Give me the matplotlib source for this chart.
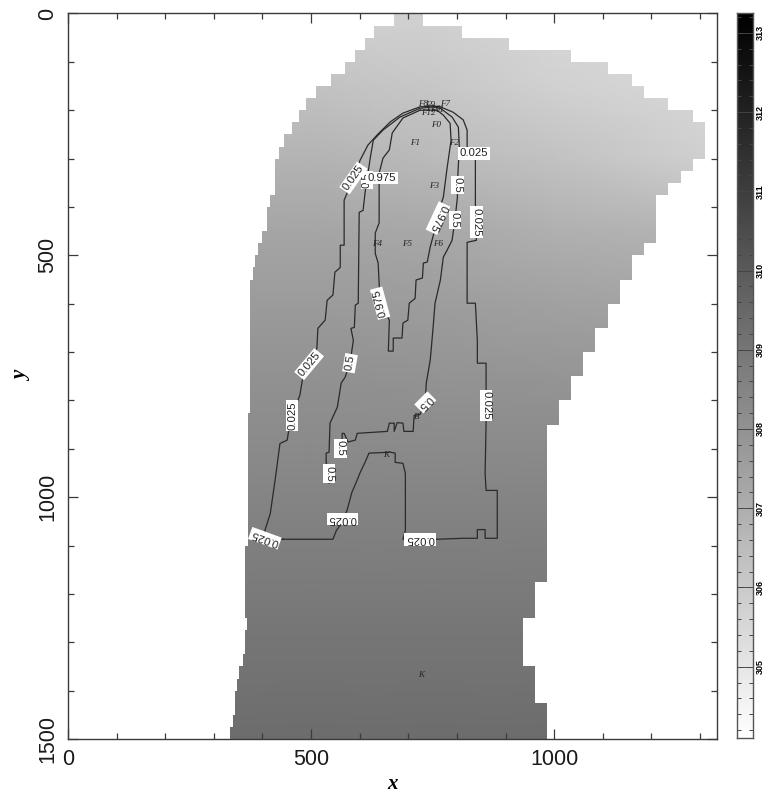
import numpy as np
import matplotlib
matplotlib.use("Agg")
import matplotlib.pyplot as plt
from matplotlib.patches import Polygon

plt.rcParams['font.family'] = ['Liberation Sans', 'DejaVu Sans']

W, H = 765, 793

# domain outline: one (left, right) x-extent per 25-unit row
row_left = [670,630,610,590,570,540,510,490,475,460,445,435,425,425,425,415,410,410,400,390,
            385,380,375,375,375,375,375,375,375,375,375,375,375,370,370,370,370,370,370,370,
            370,370,370,370,365,365,365,365,365,365,368,365,364,360,352,348,344,344,340,333]
row_right = [730,810,907,1035,1110,1160,1185,1235,1285,1310,1310,1310,1285,1260,1235,1210,1210,1210,1210,1185,
             1160,1160,1135,1135,1110,1110,1085,1085,1060,1060,1035,1035,1010,1010,985,985,985,985,985,985,
             985,985,985,985,985,985,985,960,960,960,935,935,935,935,960,960,960,985,985,985]

# temperature samples
field_x = [200, 500, 750, 1000, 1350]
field_y = [0, 150, 300, 450, 600, 750, 900, 1050, 1200, 1350, 1500]
field_T = [[305.75, 305.75, 305.75, 305.56, 305.38],
           [306.30, 306.30, 306.11, 305.75, 305.47],
           [306.85, 306.85, 306.57, 306.30, 305.75],
           [307.35, 307.35, 307.21, 306.94, 306.75],
           [307.70, 307.70, 307.62, 307.49, 307.30],
           [308.05, 308.05, 307.97, 307.90, 307.76],
           [308.30, 308.30, 308.30, 308.30, 308.30],
           [308.62, 308.62, 308.62, 308.62, 308.62],
           [308.88, 308.88, 308.88, 308.88, 308.88],
           [309.12, 309.12, 309.12, 309.12, 309.12],
           [309.36, 309.36, 309.36, 309.36, 309.36]]

# probability contours
x025 = [442,405,405,416,426,436,451,453,461,477,482,496,512,514,529,533,545,549,560,560,568,568,587,601,617,636,663,689,724,751,766,792,813,821,821,838,838,840,821,821,838,842,842,860,860,858,860,883,883,858,858,842,842,813,761,689,694,694,689,673,673,663,619,611,601,593,584,574,560,552,545,442]
y025 = [1087,1085,1069,1034,965,889,882,868,831,789,758,725,692,651,634,593,582,535,525,479,479,386,340,303,272,251,224,206,193,191,193,204,220,241,278,303,392,469,473,599,599,676,723,723,847,951,986,986,1085,1085,1067,1067,1085,1085,1087,1087,1069,951,930,928,909,907,909,928,949,969,990,1027,1058,1069,1087,1087]
x05 = [537,537,531,531,537,539,554,562,570,580,587,582,589,591,597,599,607,611,615,622,628,648,683,724,751,766,790,803,805,803,801,801,796,790,780,772,766,755,751,747,745,737,735,724,712,710,691,689,677,671,671,661,657,595,591,576,568,564,564]
y05 = [971,951,928,909,907,847,814,764,752,723,676,651,649,603,599,411,407,371,344,297,262,241,214,196,193,196,214,235,276,313,355,380,427,469,489,504,551,599,649,696,717,764,804,829,831,864,864,847,846,864,847,847,864,868,882,886,868,868,899]
x975 = [724,689,667,661,648,640,640,632,632,638,642,661,659,669,669,687,689,699,702,714,716,729,731,739,745,761,768,772,780,788,786,772,759,724]
y975 = [200,216,247,282,299,330,433,454,496,516,599,634,698,698,671,671,640,634,599,589,551,547,516,514,483,423,392,380,318,262,227,210,200,200]

# contour labels
clabel_text = ['0.5','0.025','0.975','0.025','0.5','0.5','0.975','0.025','0.975','0.025','0.5','0.5','0.025','0.025','0.5','0.5','0.025','0.025','0.025']
clabel_x = [615,587,646,835,801,796,761,840,642,496,580,735,461,860,560,537,564,724,405]
clabel_y = [344,340,340,289,355,427,423,431,599,725,723,804,831,810,899,951,1045,1087,1085]
clabel_rot = [90,55,0,0,-90,-90,245,-90,105,50,80,225,90,-90,-90,-90,180,180,160]

# named source markers
mark_text = ['F0','F1','F2','F3','F4','F5','F6','F7','F8','F9','F10','F11','F12','K','K','B']
mark_x = [757,714,794,753,636,698,761,776,730,745,752,760,742,654,726,718]
mark_y = [230,268,268,357,477,477,477,187,187,190,197,200,205,913,1368,835]

cbar_min, cbar_max = 304.1, 313.25
cbar_labels = [305,306,307,308,309,310,311,312,313]

fig = plt.figure(figsize=(W/100, H/100), dpi=100)
ax = fig.add_axes([68/W, 1-739/H, (717-68)/W, (739-13.5)/H])
spine_col = '#3a3a3a'

fx, fy = np.meshgrid(field_x, field_y)
mesh = ax.pcolormesh(fx, fy, np.array(field_T), shading='gouraud', cmap='gray_r',
                     vmin=cbar_min, vmax=cbar_max, zorder=1)
edges = np.arange(len(row_left)+1)*25
py = np.repeat(edges, 2)[1:-1]
pl = np.repeat(row_left, 2)
pr = np.repeat(row_right, 2)
outline = np.column_stack([np.r_[pl, pr[::-1]], np.r_[py, py[::-1]]])
mesh.set_clip_path(Polygon(outline, closed=True, transform=ax.transData))

for xs, ys in [(x025, y025), (x05, y05), (x975, y975)]:
    ax.plot(xs, ys, color='#2a2a2a', lw=0.9, zorder=3)

for s, x, y in zip(mark_text, mark_x, mark_y):
    ax.text(x, y, s, fontsize=6.5, family='Liberation Serif', style='italic',
            color='#222222', ha='center', va='center', zorder=4)
for s, x, y, r in zip(clabel_text, clabel_x, clabel_y, clabel_rot):
    ax.text(x, y, s, fontsize=8.2, rotation=r, rotation_mode='anchor', ha='center', va='center',
            color='#222222', zorder=5,
            bbox=dict(fc='white', ec='none', pad=1.0))

ax.set_xlim(0, 1335)
ax.set_ylim(1500, 0)
ax.set_xticks([0, 500, 1000])
ax.set_yticks([0, 500, 1000, 1500])
ax.set_xticks(np.arange(0, 1301, 100), minor=True)
ax.set_yticks(np.arange(0, 1501, 100), minor=True)
ax.tick_params(which='major', direction='in', length=7, width=0.9, color=spine_col, top=True, right=True,
               labelsize=15.5, labelcolor='#1a1a1a', pad=7)
ax.tick_params(which='minor', direction='in', length=4, width=0.9, color=spine_col, top=True, right=True)
for t in ax.get_yticklabels():
    t.set_rotation(90)
    t.set_va('center')
for sp in ax.spines.values():
    sp.set_color(spine_col)
    sp.set_linewidth(1.0)
ax.set_xlabel('x', fontsize=15, family='Liberation Serif', style='italic', weight='bold', va='center')
ax.xaxis.set_label_coords(0.5, -45/725.5)
ax.set_ylabel('y', fontsize=15, family='Liberation Serif', style='italic', weight='bold', va='center')
ax.yaxis.set_label_coords(-46/649, 0.5)

cax = fig.add_axes([737/W, 1-738/H, (753-737)/W, (738-13)/H])
grad = np.linspace(cbar_min, cbar_max, 256).reshape(-1, 1)
cax.imshow(grad, origin='lower', aspect='auto', cmap='gray_r', vmin=cbar_min, vmax=cbar_max,
           extent=[0, 1, cbar_min, cbar_max])
cax.set_xticks([])
cax.set_yticks(cbar_labels)
cax.set_yticks(np.arange(304.2, 313.21, 0.2), minor=True)
cax.tick_params(which='major', direction='in', length=6, width=0.7, color='#444444', left=True, right=True,
                labelleft=False, labelright=True, labelsize=6.5, pad=2)
cax.tick_params(which='minor', direction='in', length=3, width=0.7, color='#444444', left=True, right=True)
for t in cax.get_yticklabels():
    t.set_rotation(90)
    t.set_va('center')
    t.set_weight('bold')
for sp in cax.spines.values():
    sp.set_color('#555555')
    sp.set_linewidth(1.0)

fig.savefig('out.png', dpi=100)
